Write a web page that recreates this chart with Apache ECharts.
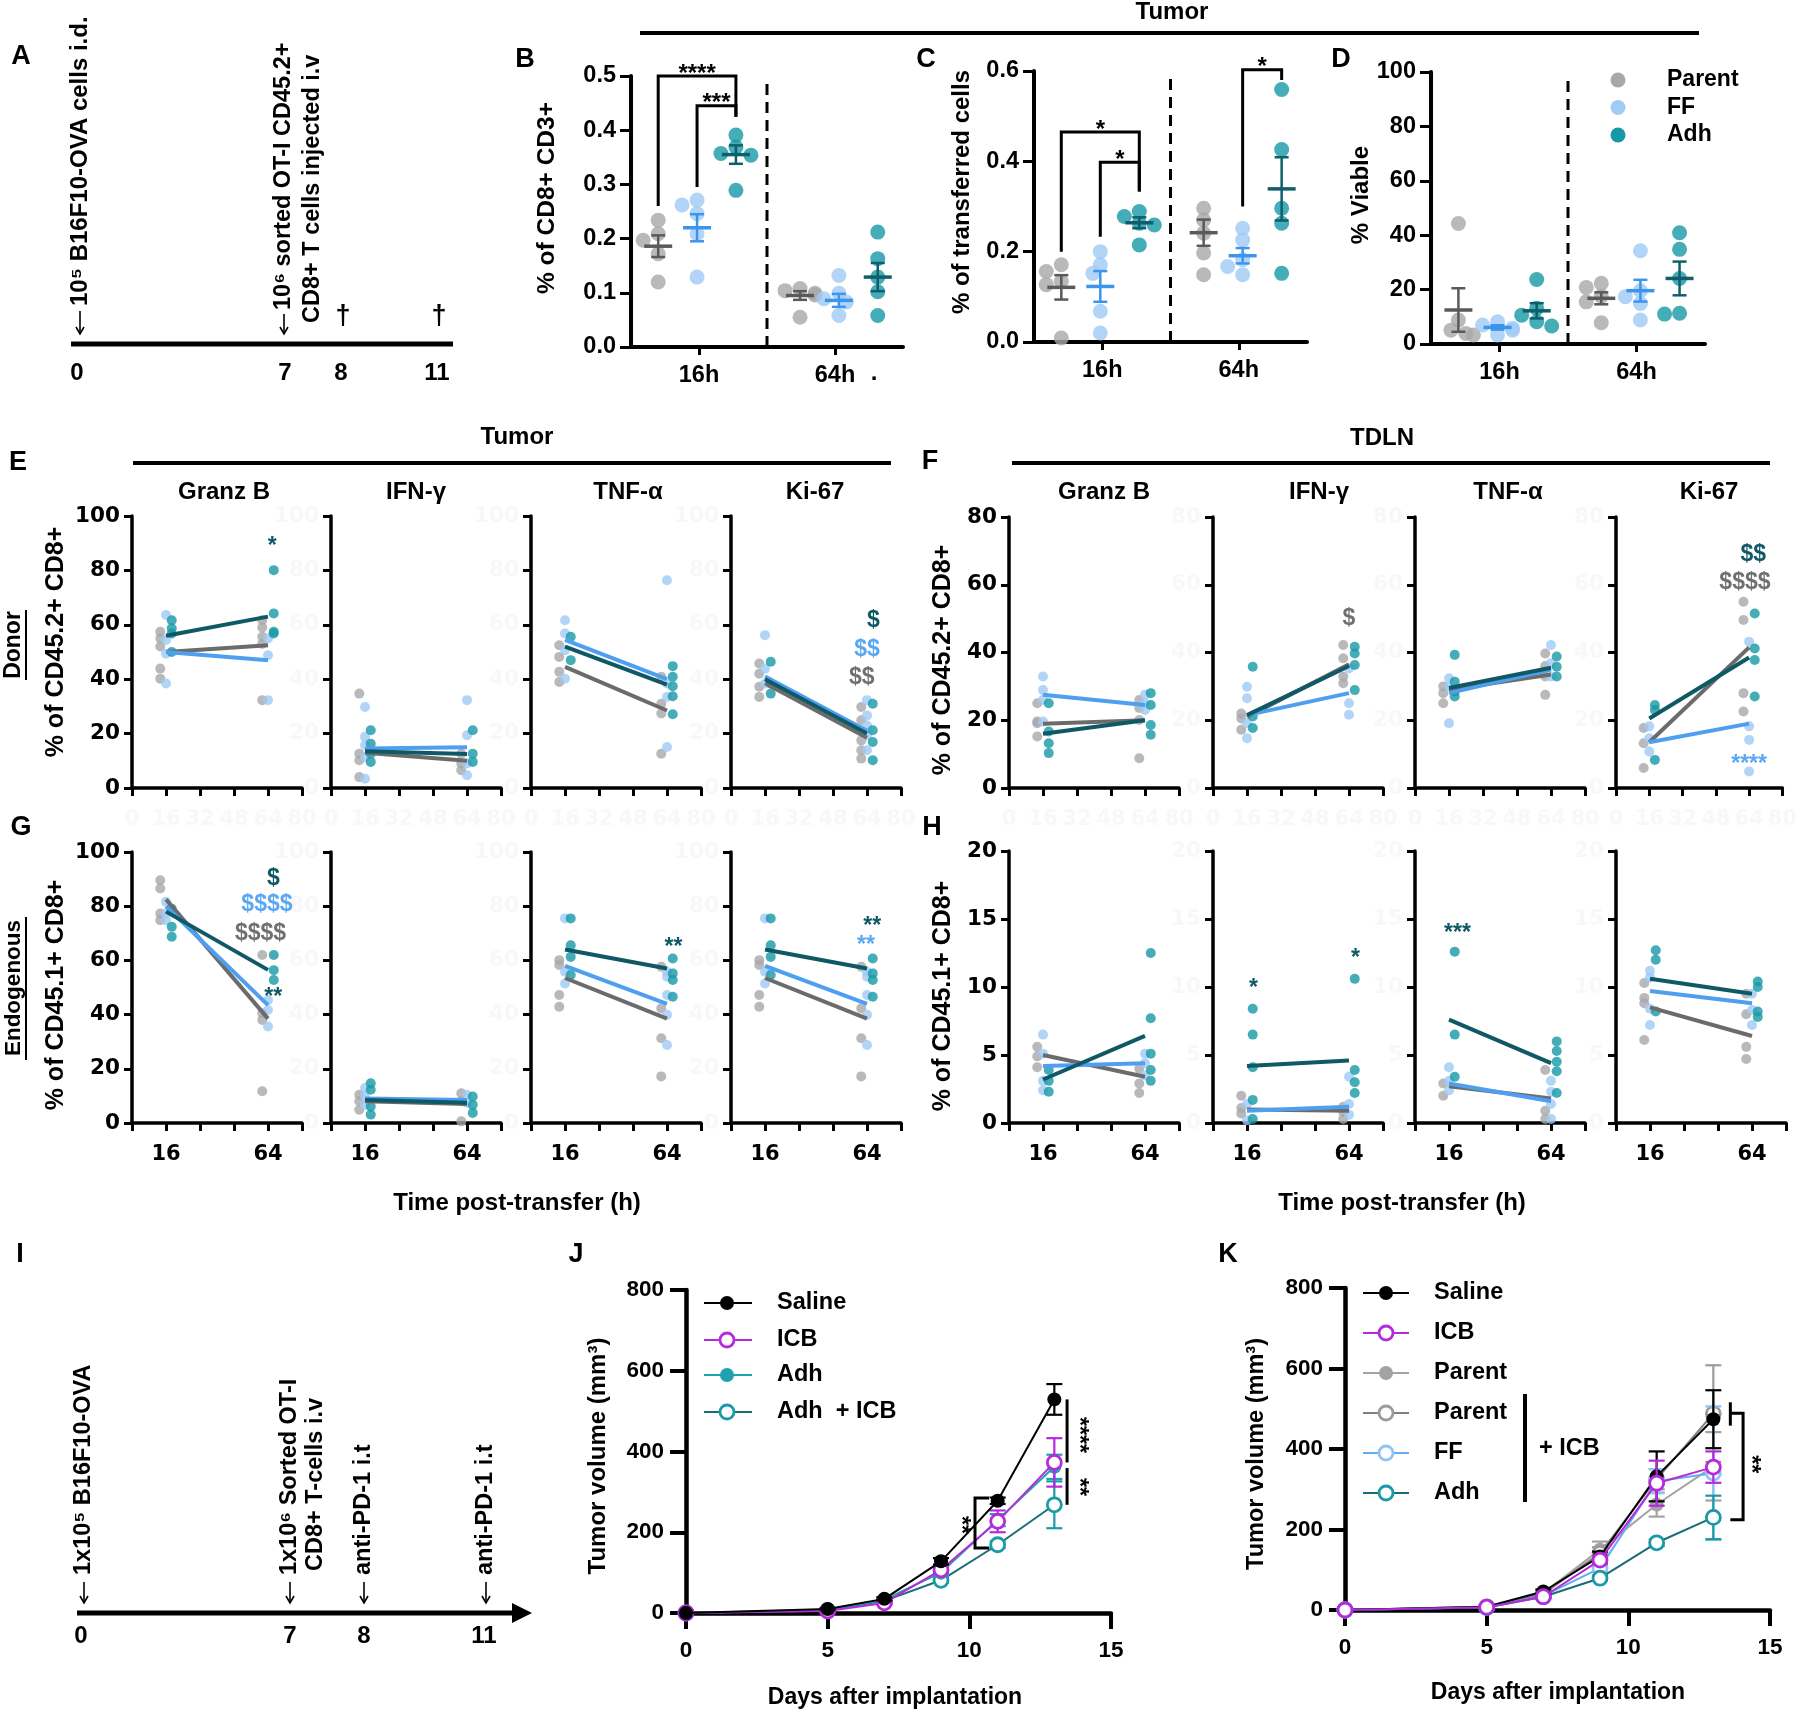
<!DOCTYPE html>
<html><head><meta charset="utf-8">
<script src="https://cdn.jsdelivr.net/npm/echarts@6/dist/echarts.min.js"></script>
<style>html,body{margin:0;padding:0;background:#fff}#c{width:1800px;height:1715px}</style>
</head><body><div id="c"></div><script>
// ================= DATA =================
const groups = ['Parent', 'FF', 'Adh'];
const timeLabels = ['16h', '64h'];
const TIMES = [16, 64];

// ---- Panel B (% of CD8+ CD3+) : [16h points, 64h points]
const B_parent = [[0.234, 0.209, 0.197, 0.172, 0.12], [0.108, 0.104, 0.099, 0.096, 0.055]];
const B_ff     = [[0.271, 0.262, 0.246, 0.209, 0.129], [0.132, 0.099, 0.089, 0.083, 0.058]];
const B_adh    = [[0.391, 0.369, 0.357, 0.354, 0.289], [0.212, 0.163, 0.129, 0.102, 0.058]];
const B_mean   = [[0.186, 0.095], [0.22, 0.086], [0.355, 0.129]];
const B_sem    = [[0.02, 0.008], [0.025, 0.012], [0.017, 0.026]];
const B_brackets = [[0, 0, 2, 0, 0.5, 0.26, 0.425, '****'], [1, 0, 2, 0, 0.445, 0.295, 0.425, '***']];

// ---- Panel C (% of transferred cells)
const C_parent = [[0.171, 0.156, 0.134, 0.127, 0.009], [0.296, 0.27, 0.241, 0.197, 0.149]];
const C_ff     = [[0.2, 0.171, 0.152, 0.068, 0.02], [0.252, 0.226, 0.182, 0.167, 0.149]];
const C_adh    = [[0.289, 0.278, 0.263, 0.259, 0.215], [0.559, 0.426, 0.296, 0.263, 0.152]];
const C_mean   = [[0.121, 0.242], [0.123, 0.191], [0.264, 0.339]];
const C_sem    = [[0.027, 0.029], [0.034, 0.017], [0.012, 0.07]];
const C_brackets = [[0, 0, 2, 0, 0.465, 0.2, 0.333, '*'], [1, 0, 2, 0, 0.398, 0.233, 0.333, '*'], [1, 1, 2, 1, 0.603, 0.3, 0.58, '*']];

// ---- Panel D (% Viable)
const D_parent = [[44.3, 8.8, 5.1, 3.9, 3.3], [22.3, 20.8, 17.6, 15.5, 7.8]];
const D_ff     = [[8.2, 7, 5.8, 5.1, 3.3], [34.3, 19.6, 17.4, 14.9, 8.8]];
const D_adh    = [[23.7, 13.1, 10.6, 8.2, 6.6], [40.9, 34.8, 24.1, 11.3, 11]];
const D_mean   = [[12.5, 16.8], [6.1, 19.6], [12.2, 24.1]];
const D_sem    = [[8, 2.2], [0.8, 4], [2.8, 6.2]];

// ---- Panels E-H: per subplot, group points [16h, 64h]; means [[P16,P64],[F16,F64],[A16,A64]]
const E_GranzB_P = [[57.4, 55, 52, 43.9, 40.2], [61.7, 59, 55.6, 53, 32.3]];
const E_GranzB_F = [[63.6, 54.4, 49.4, 38.4], [55, 48.8, 32.3]];
const E_GranzB_A = [[61.7, 58.7, 56.8, 50], [80.1, 64.2, 57.4, 56.8]];
const E_GranzB_M = [[50, 52.5], [50, 47], [56, 63]];
const E_IFN_P = [[34.7, 12.6, 10.2, 4.0], [12.6, 9, 6.5]];
const E_IFN_F = [[29.8, 18.8, 15.7, 11.4, 3.4], [32.3, 19.4, 9, 4.7]];
const E_IFN_A = [[21.2, 16.3, 12.6, 9.6], [21.2, 12.6, 9.6]];
const E_IFN_M = [[13, 10], [14.5, 15], [13.5, 12.5]];
const E_TNF_P = [[52.5, 48.2, 42.7, 39], [40.9, 31, 27.4, 12.6]];
const E_TNF_F = [[61.7, 56.8, 50.7, 40.2], [76.4, 38.4, 33.5, 15.1]];
const E_TNF_A = [[55.6, 47], [44.8, 40.9, 37.4, 33.7, 27.1]];
const E_TNF_M = [[44.5, 28.5], [54.5, 40], [52, 38]];
const E_Ki67_P = [[45.8, 42, 37.2, 33.5], [29.8, 24.9, 17.5, 13.9, 10.8]];
const E_Ki67_F = [[56.2, 43.9, 38.4], [32.3, 26.7, 23, 19.4, 13.9]];
const E_Ki67_A = [[46.4, 38.4, 34.7], [31, 21.2, 16.9, 10.2]];
const E_Ki67_M = [[38.5, 18.5], [41, 21], [40, 20]];

const F_GranzB_P = [[25, 19.6, 19.1, 15.2], [26, 23.6, 20.1, 8.8]];
const F_GranzB_F = [[32.9, 28.9, 26, 19.6], [27.5, 25, 23]];
const F_GranzB_A = [[25, 16.7, 13.2, 10.3], [28, 24.5, 18.6, 15.7]];
const F_GranzB_M = [[19, 20], [27.5, 24.5], [16, 20]];
const F_IFN_P = [[22, 20.5, 17.2], [42.2, 38.3, 32.9, 30.9]];
const F_IFN_F = [[29.9, 26.5, 19.1, 14.7], [35.3, 25, 21.6]];
const F_IFN_A = [[35.8, 21.1, 17.7], [41.7, 39.7, 36.3, 28.9]];
const F_IFN_M = [[21, 36.5], [21.5, 28], [21.5, 36]];
const F_TNF_P = [[30, 28, 25], [39.7, 36, 32.9, 27.5]];
const F_TNF_F = [[32.4, 30, 19.1], [42.2, 36.8, 32.9]];
const F_TNF_A = [[39.3, 31.4, 28.5, 27], [38.8, 35.8, 32.9]];
const F_TNF_M = [[29, 33.5], [28, 35], [29.5, 35.5]];
const F_Ki67_P = [[17.7, 13.2, 5.9], [55, 49.6, 28, 22.6]];
const F_Ki67_F = [[18.2, 14.7, 10.8], [43.2, 18.2, 14.2, 4.9]];
const F_Ki67_A = [[24.5, 23, 8.3], [51.5, 41.2, 37.8, 27]];
const F_Ki67_M = [[13.5, 41.5], [13.5, 19], [20.5, 38.5]];

const G_GranzB_P = [[89.6, 86.5, 77.3, 74.8], [62, 40.5, 38, 11.7]];
const G_GranzB_F = [[81.6, 77.3, 74.8], [45.4, 41.7, 35.6]];
const G_GranzB_A = [[79.1, 72.4, 68.7], [62, 56.4, 52.8]];
const G_GranzB_M = [[82.5, 38.5], [80, 43.5], [78, 56.5]];
const G_IFN_P = [[10.4, 8, 4.9], [11, 8, 0.6]];
const G_IFN_F = [[12.9, 9.8, 6.7], [10.4, 7.4]];
const G_IFN_A = [[14.7, 12.3, 6.1, 3.1], [9.8, 6.7, 3.7]];
const G_IFN_M = [[8, 7], [9, 8.5], [8.5, 7.5]];
const G_TNF_P = [[60.1, 58.3, 47.2, 42.9], [57.7, 42.3, 31.3, 17.2]];
const G_TNF_F = [[75.5, 55.8, 51.5], [55.8, 54, 47.2, 39.9, 28.8]];
const G_TNF_A = [[75.5, 65.6, 61.3, 54.6], [60.7, 55.2, 52.8, 46.6]];
const G_TNF_M = [[53.5, 38.5], [58, 44], [64, 57]];
const G_Ki67_P = [[60.1, 58.3, 47.2, 42.9], [57.7, 42.3, 31.3, 17.2]];
const G_Ki67_F = [[75.5, 55.8, 51.5], [55.8, 54, 47.2, 39.9, 28.8]];
const G_Ki67_A = [[75.5, 65.6, 61.3, 54.6], [60.7, 55.2, 52.8, 46.6]];
const G_Ki67_M = [[53.5, 38.5], [58, 44], [64, 57]];

const H_GranzB_P = [[5.6, 4.9, 4.1], [4, 2.9, 2.2]];
const H_GranzB_F = [[6.5, 5.1, 3.1, 2.4], [5.1, 4.4, 3.5]];
const H_GranzB_A = [[3.9, 3.1, 2.3], [12.5, 7.7, 5.1, 3.9, 3.1]];
const H_GranzB_M = [[5, 3.4], [4.2, 4.4], [3.2, 6.4]];
const H_IFN_P = [[2, 1.1, 0.7], [1.2, 0.8, 0.3]];
const H_IFN_F = [[1.4, 0.2], [3.4, 1.4, 0.6]];
const H_IFN_A = [[8.4, 6.5, 4.1, 1.7, 0.3], [10.6, 3.9, 3, 2.2]];
const H_IFN_M = [[1, 0.9], [0.9, 1.2], [4.2, 4.6]];
const H_TNF_P = [[2.9, 2], [3.9, 0.9, 0.3]];
const H_TNF_F = [[4.1, 3.1, 2.4], [3.1, 2.3, 1.4, 0.3]];
const H_TNF_A = [[12.6, 6.5, 3.4], [6, 5.3, 4.5, 3.8, 2.2]];
const H_TNF_M = [[2.7, 1.8], [2.9, 1.6], [7.6, 4.4]];
const H_Ki67_P = [[10.3, 9.2, 8.8, 6.1], [9.5, 8, 5.6, 4.7]];
const H_Ki67_F = [[11.2, 10.7, 8.4, 7.2], [9.5, 8.3, 7.2]];
const H_Ki67_A = [[12.7, 12, 8.2], [10.4, 10, 8.2, 7.8]];
const H_Ki67_M = [[8.5, 6.4], [9.7, 8.8], [10.6, 9.5]];

// significance annotations [x, y, text, colourKey]
const E_GranzB_ann = [[66, 91, '*', 'd']];
const E_Ki67_ann = [[67, 61.5, '$', 'd'], [64, 51, '$$', 'b'], [61.5, 40.5, '$$', 'g']];
const F_IFN_ann = [[64, 50, '$', 'g']];
const F_Ki67_ann = [[66, 69, '$$', 'd'], [62, 60.5, '$$$$', 'g'], [64, 8.8, '****', 'b']];
const G_GranzB_ann = [[66.5, 90, '$', 'd'], [63.5, 80.5, '$$$$', 'b'], [60.5, 70, '$$$$', 'g'], [66.5, 48.5, '**', 'd']];
const G_TNF_ann = [[67, 67, '**', 'd']];
const G_Ki67_ann = [[66.5, 74.5, '**', 'd'], [63.5, 67.5, '**', 'b']];
const H_IFN_ann = [[19, 10.3, '*', 'd'], [67, 12.5, '*', 'd']];
const H_TNF_ann = [[20, 14.4, '***', 'd']];

const markerTitles = ['Granz B', 'IFN-γ', 'TNF-α', 'Ki-67'];

// ---- Panels J / K (tumor volume)
const days = [0, 5, 7, 9, 11, 13];
const J_saline = [0, 10, 35, 128, 278, 529];   const J_salineSem = [0, 2, 4, 8, 8, 38];
const J_icb = [0, 5, 25, 107, 227, 373];       const J_icbSem = [0, 2, 3, 8, 27, 60];
const J_adh = [0, 8, 33, 100, 230, 362];       const J_adhSem = [0, 2, 4, 8, 15, 30];
const J_adhIcb = [0, 6, 30, 81, 169, 268];     const J_adhIcbSem = [0, 2, 3, 6, 8, 58];

const K_saline = [0, 8, 46, 133, 332, 474];    const K_salineSem = [0, 2, 5, 12, 62, 72];
const K_icb = [0, 7, 33, 124, 315, 355];       const K_icbSem = [0, 2, 4, 10, 56, 39];
const K_parent = [0, 8, 42, 150, 262, 357];    const K_parentSem = [0, 2, 5, 20, 30, 85];
const K_parentIcb = [0, 8, 40, 141, 325, 488]; const K_parentIcbSem = [0, 2, 4, 15, 25, 120];
const K_ffIcb = [0, 7, 35, 104, 320, 340];     const K_ffIcbSem = [0, 2, 4, 10, 30, 166];
const K_adhIcb = [0, 6, 33, 79, 167, 230];     const K_adhIcbSem = [0, 2, 3, 6, 8, 54];

const J_sigLines = [[[13.45, 529], [13.45, 373]], [[13.45, 359], [13.45, 268]], [[10.7, 285], [10.2, 285], [10.2, 161], [10.7, 161]]];
const J_sigText = [[13.85, 441, '****'], [13.85, 312, '**'], [9.7, 218, '**']];
const K_sigLines = [[[13.6, 489], [14.05, 489], [14.05, 224], [13.6, 224]], [[13.6, 458], [13.6, 516]]];
const K_sigText = [[14.32, 362, '**']];

// ================= STYLE =================
const FA = "'Liberation Sans',Arial,sans-serif";
const FW = "'DejaVu Sans','Liberation Sans',sans-serif";
const PT = ['#a8a8aa', '#9fcbf5', '#1698a6'];
const LN = ['#6b6b6b', '#4f9ff0', '#0f5966'];
const MN = ['#5a5a5a', '#3b95ec', '#0f5f6b'];
const ANN = { d: '#0f5966', b: '#5aa7f3', g: '#707070' };
const P_OFF = [-2.7, 0, 2.7];
const FAINT = '#f8f8f8';

const grids = [], xAxes = [], yAxes = [], series = [], graphics = [];
function addGrid(left, top, width, height) { grids.push({ left, top, width, height }); return grids.length - 1; }
function axLine(w) { return { show: true, onZero: false, lineStyle: { color: '#000', width: w } }; }
function axTick(len, w) { return { show: true, length: len, lineStyle: { color: '#000', width: w } }; }
function txt(x, y, text, font, opt) {
  opt = opt || {};
  graphics.push({ type: 'text', x, y, rotation: opt.rot || 0, z: 100,
    style: { text, font, fill: opt.color || '#000', align: opt.align || 'center', verticalAlign: opt.va || 'middle' } });
}
function hline(x1, y1, x2, y2, w, color) {
  graphics.push({ type: 'line', z: 100, shape: { x1, y1, x2, y2 }, style: { stroke: color || '#000', lineWidth: w } });
}
function downArrow(x, y1, y2) {
  hline(x, y1, x, y2, 1.6);
  graphics.push({ type: 'polyline', z: 100, shape: { points: [[x - 4, y2 - 7], [x, y2], [x + 4, y2 - 7]] }, style: { stroke: '#000', lineWidth: 1.6, fill: null } });
}

// ---------- dot panels (B, C, D) ----------
function pos(g, t) { return 0.7 + g + t * 3.65; }
function swarm(vals, g, t, pxX, pxY, d) {
  const placed = [];
  const xc = pos(g, t);
  vals.slice().sort((a, b) => b - a).forEach(v => {
    const cand = [0, -0.5, 0.5, -1, 1];
    for (let i = 0; i < cand.length; i++) {
      const xo = cand[i] * d / pxX;
      const ok = placed.every(p => Math.hypot((p[0] - (xc + xo)) * pxX, (p[1] - v) * pxY) >= d * 0.75);
      if (ok || i === cand.length - 1) { placed.push([xc + xo, v]); break; }
    }
  });
  return placed;
}
function addDotPanel(left, top, width, height, ymax, yint, dec, ptsArr, means, sems, brackets) {
  const gi = addGrid(left, top, width, height);
  const xv = xAxes.length;
  xAxes.push({ type: 'value', gridIndex: gi, min: 0, max: 7, show: false, position: 'bottom' });
  xAxes.push({ type: 'category', gridIndex: gi, position: 'bottom', data: timeLabels, boundaryGap: true,
    axisLine: axLine(4), axisTick: { show: true, alignWithLabel: true, length: 8, lineStyle: { color: '#000', width: 3 } },
    axisLabel: { margin: 17, fontFamily: FA, fontWeight: 'bold', fontSize: 23.5, color: '#000' } });
  const yi = yAxes.length;
  yAxes.push({ type: 'value', gridIndex: gi, min: 0, max: ymax, interval: yint,
    axisLine: axLine(4), axisTick: axTick(11, 3), splitLine: { show: false },
    axisLabel: { margin: 15, fontFamily: FA, fontWeight: 'bold', fontSize: 23.5, color: '#000', formatter: v => v.toFixed(dec) } });
  const pxX = width / 7, pxY = height / ymax;
  ptsArr.forEach((grp, g) => {
    const data = [];
    grp.forEach((vals, t) => swarm(vals, g, t, pxX, pxY, 15).forEach(p => data.push(p)));
    series.push({ type: 'scatter', xAxisIndex: xv, yAxisIndex: yi, symbolSize: 15, itemStyle: { color: PT[g] }, data, z: 2 });
  });
  series.push({ type: 'line', xAxisIndex: xv, yAxisIndex: yi, data: [[3.5, 0], [3.5, ymax * 0.975]], symbol: 'none',
    lineStyle: { type: [11, 7], width: 3, color: '#000' }, z: 1, silent: true });
  const md = [];
  means.forEach((mm, g) => mm.forEach((m, t) => md.push([pos(g, t), m, sems[g][t], g])));
  series.push({ type: 'custom', xAxisIndex: xv, yAxisIndex: yi, z: 4, data: md,
    renderItem: (p, api) => {
      const x = api.value(0), m = api.value(1), s = api.value(2), g = api.value(3);
      const c = api.coord([x, m]), hi = api.coord([x, m + s]), lo = api.coord([x, m - s]);
      const col = MN[g];
      return { type: 'group', children: [
        { type: 'line', shape: { x1: c[0] - 14, y1: c[1], x2: c[0] + 14, y2: c[1] }, style: { stroke: col, lineWidth: 3.5 } },
        { type: 'line', shape: { x1: c[0], y1: hi[1], x2: c[0], y2: lo[1] }, style: { stroke: col, lineWidth: 2.5 } },
        { type: 'line', shape: { x1: c[0] - 7, y1: hi[1], x2: c[0] + 7, y2: hi[1] }, style: { stroke: col, lineWidth: 2.5 } },
        { type: 'line', shape: { x1: c[0] - 7, y1: lo[1], x2: c[0] + 7, y2: lo[1] }, style: { stroke: col, lineWidth: 2.5 } }] };
    } });
  if (brackets && brackets.length) {
    series.push({ type: 'custom', xAxisIndex: xv, yAxisIndex: yi, z: 5, clip: false,
      data: brackets.map((b, i) => [pos(b[0], b[1]), pos(b[2], b[3]), b[4], b[5], b[6], i]),
      renderItem: (p, api) => {
        const x1 = api.value(0), x2 = api.value(1), yt = api.value(2), l1 = api.value(3), l2 = api.value(4);
        const a = api.coord([x1, l1]), b = api.coord([x1, yt]), c = api.coord([x2, yt]), d = api.coord([x2, l2]);
        const t = brackets[api.value(5)][7];
        return { type: 'group', children: [
          { type: 'polyline', shape: { points: [a, b, c, d] }, style: { stroke: '#000', lineWidth: 3, fill: null } },
          { type: 'text', x: (b[0] + c[0]) / 2, y: b[1] + 10, style: { text: t, font: 'bold 24px ' + FA, fill: '#000', align: 'center', verticalAlign: 'bottom' } }] };
      } });
  }
  return gi;
}

// ---------- time course panels (E-H) ----------
function annSeries(xi, yi, anns) {
  return { type: 'custom', xAxisIndex: xi, yAxisIndex: yi, clip: false, z: 6,
    data: anns.map((a, i) => [a[0], a[1], i]),
    renderItem: (p, api) => {
      const a = anns[api.value(2)];
      const c = api.coord([a[0], a[1]]);
      const star = a[2].indexOf('*') >= 0;
      return { type: 'text', x: c[0], y: c[1] + (star ? 6 : 0),
        style: { text: a[2], fill: ANN[a[3]], font: 'bold 23px ' + FA, align: 'center', verticalAlign: 'middle' } };
    } };
}
function addTimePanel(left, top, height, ymax, yint, P, F, A, M, anns, yLabBlack, xMode) {
  const gi = addGrid(left, top, 170, height);
  const xi = xAxes.length;
  xAxes.push({ type: 'value', gridIndex: gi, min: 0, max: 80, interval: 16,
    axisLine: axLine(3.5), axisTick: axTick(8, 3), splitLine: { show: false },
    axisLabel: { margin: 21, fontFamily: FW, fontWeight: 'bold', fontSize: 21, 
      color: xMode === 'time' ? '#000' : FAINT,
      formatter: v => xMode === 'time' ? ((v === 16 || v === 64) ? String(v) : '') : String(v) } });
  const yi = yAxes.length;
  yAxes.push({ type: 'value', gridIndex: gi, min: 0, max: ymax, interval: yint,
    axisLine: axLine(3.5), axisTick: axTick(8, 3), splitLine: { show: false },
    axisLabel: { margin: 12, fontFamily: FW, fontWeight: 'bold', fontSize: 21.5, color: yLabBlack ? '#000' : FAINT } });
  [P, F, A].forEach((grp, g) => {
    const data = [];
    grp.forEach((vals, t) => vals.forEach(v => data.push([TIMES[t] + P_OFF[g], v])));
    series.push({ type: 'scatter', xAxisIndex: xi, yAxisIndex: yi, symbolSize: 10, itemStyle: { color: PT[g] }, data, z: 2 });
  });
  M.forEach((mm, g) => series.push({ type: 'line', xAxisIndex: xi, yAxisIndex: yi,
    data: [[TIMES[0], mm[0]], [TIMES[1], mm[1]]], symbol: 'none', lineStyle: { color: LN[g], width: 4 }, z: 3, silent: true }));
  if (anns && anns.length) series.push(annSeries(xi, yi, anns));
}

// ---------- growth panels (J, K) ----------
function addGrowth(left, top, width, height, list, sigLines, sigText) {
  const gi = addGrid(left, top, width, height);
  const xi = xAxes.length;
  xAxes.push({ type: 'value', gridIndex: gi, min: 0, max: 15, interval: 5,
    axisLine: axLine(4.5), axisTick: axTick(16, 4), splitLine: { show: false },
    axisLabel: { margin: 26, fontFamily: FA, fontWeight: 'bold', fontSize: 22.5, color: '#000' } });
  const yi = yAxes.length;
  yAxes.push({ type: 'value', gridIndex: gi, min: 0, max: 800, interval: 200,
    axisLine: axLine(4.5), axisTick: axTick(16, 4), splitLine: { show: false },
    axisLabel: { margin: 22, fontFamily: FA, fontWeight: 'bold', fontSize: 22.5, color: '#000' } });
  list.forEach((s, k) => {
    series.push({ type: 'custom', xAxisIndex: xi, yAxisIndex: yi, z: 3 + k * 2, clip: false,
      data: days.map((d, i) => [d, s.v[i], s.e[i]]),
      renderItem: (p, api) => {
        const x = api.value(0), m = api.value(1), e = api.value(2);
        if (!e) return;
        const hi = api.coord([x, m + e]), lo = api.coord([x, m - e]);
        return { type: 'group', children: [
          { type: 'line', shape: { x1: hi[0], y1: hi[1], x2: lo[0], y2: lo[1] }, style: { stroke: s.ec, lineWidth: 2.2 } },
          { type: 'line', shape: { x1: hi[0] - 8, y1: hi[1], x2: hi[0] + 8, y2: hi[1] }, style: { stroke: s.ec, lineWidth: 2.2 } },
          { type: 'line', shape: { x1: lo[0] - 8, y1: lo[1], x2: lo[0] + 8, y2: lo[1] }, style: { stroke: s.ec, lineWidth: 2.2 } }] };
      } });
    series.push({ type: 'line', xAxisIndex: xi, yAxisIndex: yi, z: 4 + k * 2, data: days.map((d, i) => [d, s.v[i]]),
      symbol: 'circle', symbolSize: 14, lineStyle: { color: s.lc, width: 2 },
      itemStyle: { color: s.open ? '#fff' : s.mc, borderColor: s.mc, borderWidth: s.open ? 2.8 : 0 } });
  });
  series.push({ type: 'custom', xAxisIndex: xi, yAxisIndex: yi, z: 30, clip: false,
    data: sigLines.map((l, i) => [i]),
    renderItem: (p, api) => {
      const l = sigLines[api.value(0)];
      return { type: 'polyline', shape: { points: l.map(q => api.coord(q)) }, style: { stroke: '#000', lineWidth: 3, fill: null } };
    } });
  series.push({ type: 'custom', xAxisIndex: xi, yAxisIndex: yi, z: 30, clip: false,
    data: sigText.map((t, i) => [t[0], t[1], i]),
    renderItem: (p, api) => {
      const t = sigText[api.value(2)];
      const c = api.coord([t[0], t[1]]);
      return { type: 'text', x: c[0], y: c[1], rotation: -Math.PI / 2,
        style: { text: t[2], font: 'bold 23px ' + FA, fill: '#000', align: 'center', verticalAlign: 'middle' } };
    } });
}

// ================= BUILD =================
addDotPanel(631, 76, 272, 271, 0.5, 0.1, 1, [B_parent, B_ff, B_adh], B_mean, B_sem, B_brackets);
addDotPanel(1034, 71, 273, 271, 0.6, 0.2, 1, [C_parent, C_ff, C_adh], C_mean, C_sem, C_brackets);
addDotPanel(1431, 72, 274, 272, 100, 20, 0, [D_parent, D_ff, D_adh], D_mean, D_sem, []);

const rowE = [[E_GranzB_P, E_GranzB_F, E_GranzB_A, E_GranzB_M, E_GranzB_ann], [E_IFN_P, E_IFN_F, E_IFN_A, E_IFN_M, []], [E_TNF_P, E_TNF_F, E_TNF_A, E_TNF_M, []], [E_Ki67_P, E_Ki67_F, E_Ki67_A, E_Ki67_M, E_Ki67_ann]];
const rowF = [[F_GranzB_P, F_GranzB_F, F_GranzB_A, F_GranzB_M, []], [F_IFN_P, F_IFN_F, F_IFN_A, F_IFN_M, F_IFN_ann], [F_TNF_P, F_TNF_F, F_TNF_A, F_TNF_M, []], [F_Ki67_P, F_Ki67_F, F_Ki67_A, F_Ki67_M, F_Ki67_ann]];
const rowG = [[G_GranzB_P, G_GranzB_F, G_GranzB_A, G_GranzB_M, G_GranzB_ann], [G_IFN_P, G_IFN_F, G_IFN_A, G_IFN_M, []], [G_TNF_P, G_TNF_F, G_TNF_A, G_TNF_M, G_TNF_ann], [G_Ki67_P, G_Ki67_F, G_Ki67_A, G_Ki67_M, G_Ki67_ann]];
const rowH = [[H_GranzB_P, H_GranzB_F, H_GranzB_A, H_GranzB_M, []], [H_IFN_P, H_IFN_F, H_IFN_A, H_IFN_M, H_IFN_ann], [H_TNF_P, H_TNF_F, H_TNF_A, H_TNF_M, H_TNF_ann], [H_Ki67_P, H_Ki67_F, H_Ki67_A, H_Ki67_M, []]];
const leftsL = [132, 331, 531, 731], leftsR = [1009, 1213, 1415, 1616];
rowE.forEach((r, i) => addTimePanel(leftsL[i], 516, 272, 100, 20, r[0], r[1], r[2], r[3], r[4], i === 0, 'faint'));
rowF.forEach((r, i) => addTimePanel(leftsR[i], 517, 271, 80, 20, r[0], r[1], r[2], r[3], r[4], i === 0, 'faint'));
rowG.forEach((r, i) => addTimePanel(leftsL[i], 852, 271, 100, 20, r[0], r[1], r[2], r[3], r[4], i === 0, 'time'));
rowH.forEach((r, i) => addTimePanel(leftsR[i], 851, 272, 20, 5, r[0], r[1], r[2], r[3], r[4], i === 0, 'time'));

addGrowth(686, 1290, 425, 323, [
  { v: J_adhIcb, e: J_adhIcbSem, mc: '#1d9aa7', lc: '#1a6e78', ec: '#1d9aa7', open: true },
  { v: J_adh, e: J_adhSem, mc: '#1fa2b0', lc: '#1fa2b0', ec: '#1fa2b0', open: false },
  { v: J_icb, e: J_icbSem, mc: '#b62ade', lc: '#b62ade', ec: '#b62ade', open: true },
  { v: J_saline, e: J_salineSem, mc: '#000', lc: '#000', ec: '#000', open: false }
], J_sigLines, J_sigText);
addGrowth(1345, 1288, 425, 322, [
  { v: K_parent, e: K_parentSem, mc: '#a3a3a3', lc: '#a3a3a3', ec: '#a3a3a3', open: false },
  { v: K_parentIcb, e: K_parentIcbSem, mc: '#9b9b9b', lc: '#808080', ec: '#9b9b9b', open: true },
  { v: K_ffIcb, e: K_ffIcbSem, mc: '#8ec5f6', lc: '#64acf2', ec: '#8ec5f6', open: true },
  { v: K_adhIcb, e: K_adhIcbSem, mc: '#1c98a6', lc: '#1b6c76', ec: '#1c98a6', open: true },
  { v: K_saline, e: K_salineSem, mc: '#000', lc: '#000', ec: '#000', open: false },
  { v: K_icb, e: K_icbSem, mc: '#b62ade', lc: '#b62ade', ec: '#b62ade', open: true }
], K_sigLines, K_sigText);

// ================= TEXT / GRAPHICS =================
const LETTER = 'bold 27px ' + FA;
[['A', 21, 57], ['B', 525, 60], ['C', 926, 60], ['D', 1341, 60], ['E', 18, 463], ['F', 930, 462],
 ['G', 21, 828], ['H', 932, 828], ['I', 20, 1255], ['J', 576, 1255], ['K', 1228, 1255]].forEach(l => txt(l[1], l[2], l[0], LETTER));

const ROT = Math.PI / 2;
// Panel A timeline
hline(71, 344, 453, 344, 5);
[['0', 77], ['7', 285], ['8', 341], ['11', 437]].forEach(t => txt(t[1], 373, t[0], 'bold 24px ' + FA));
downArrow(80, 311, 334);
downArrow(284, 314, 334);
txt(80, 306, '10⁵ B16F10-OVA cells i.d.', 'bold 24px ' + FA, { rot: ROT, align: 'left' });
txt(284, 310, '10⁶ sorted OT-I CD45.2+', 'bold 23.5px ' + FA, { rot: ROT, align: 'left' });
txt(313, 323, 'CD8+ T cells injected i.v', 'bold 23.5px ' + FA, { rot: ROT, align: 'left' });
txt(343, 317, '†', 'bold 27px ' + FA);
txt(439, 317, '†', 'bold 27px ' + FA);

// Top header
txt(1172, 12, 'Tumor', 'bold 24px ' + FA);
hline(640, 33, 1699, 33, 4);
txt(874, 373, '.', 'bold 24px ' + FA);

// y-axis names top row
txt(547, 198, '% of CD8+ CD3+', 'bold 24.5px ' + FA, { rot: ROT });
txt(962, 192, '% of transferred cells', 'bold 24px ' + FA, { rot: ROT });
txt(1361, 195, '% Viable', 'bold 24px ' + FA, { rot: ROT });

// D legend
groups.forEach((g, i) => {
  graphics.push({ type: 'circle', z: 100, shape: { cx: 1618, cy: 80 + i * 27.5, r: 7.5 }, style: { fill: PT[i] } });
  txt(1667, 80 + i * 27.5, g, 'bold 23px ' + FA, { align: 'left' });
});

// E/F headers
txt(517, 437, 'Tumor', 'bold 24px ' + FA);
hline(133, 463, 891, 463, 4);
txt(1382, 438, 'TDLN', 'bold 24px ' + FA);
hline(1012, 463, 1770, 463, 4);
const titleXL = [224, 416, 628, 815], titleXR = [1104, 1319, 1508, 1709];
markerTitles.forEach((m, i) => { txt(titleXL[i], 492, m, 'bold 24px ' + FA); txt(titleXR[i], 492, m, 'bold 24px ' + FA); });

// E-H y names
txt(56, 642, '% of CD45.2+ CD8+', 'bold 25px ' + FA, { rot: ROT });
txt(14, 645, 'Donor', 'bold 23px ' + FA, { rot: ROT });
hline(26, 610, 26, 680, 2);
txt(943, 660, '% of CD45.2+ CD8+', 'bold 25px ' + FA, { rot: ROT });
txt(56, 995, '% of CD45.1+ CD8+', 'bold 25px ' + FA, { rot: ROT });
txt(14, 988, 'Endogenous', 'bold 22.5px ' + FA, { rot: ROT });
hline(26, 917, 26, 1060, 2);
txt(943, 996, '% of CD45.1+ CD8+', 'bold 25px ' + FA, { rot: ROT });
txt(517, 1203, 'Time post-transfer (h)', 'bold 24px ' + FA);
txt(1402, 1203, 'Time post-transfer (h)', 'bold 24px ' + FA);

// Panel I timeline
hline(77, 1613, 516, 1613, 5);
graphics.push({ type: 'polygon', z: 100, shape: { points: [[512, 1603], [532, 1613], [512, 1623]] }, style: { fill: '#000' } });
[['0', 81], ['7', 290], ['8', 364], ['11', 484]].forEach(t => txt(t[1], 1636, t[0], 'bold 24px ' + FA));
[84, 290, 364, 486].forEach(x => downArrow(x, 1582, 1603));
txt(84, 1575, '1x10⁵ B16F10-OVA', 'bold 23.5px ' + FA, { rot: ROT, align: 'left' });
txt(290, 1575, '1x10⁶ Sorted OT-I', 'bold 23.5px ' + FA, { rot: ROT, align: 'left' });
txt(316, 1571, 'CD8+ T-cells i.v', 'bold 23.5px ' + FA, { rot: ROT, align: 'left' });
txt(364, 1575, 'anti-PD-1 i.t', 'bold 23.5px ' + FA, { rot: ROT, align: 'left' });
txt(486, 1575, 'anti-PD-1 i.t', 'bold 23.5px ' + FA, { rot: ROT, align: 'left' });

// J/K axis names
txt(598, 1456, 'Tumor volume (mm³)', 'bold 24px ' + FA, { rot: ROT });
txt(895, 1698, 'Days after implantation', 'bold 23px ' + FA);
txt(1257, 1454, 'Tumor volume (mm³)', 'bold 23.5px ' + FA, { rot: ROT });
txt(1558, 1693, 'Days after implantation', 'bold 23px ' + FA);

// legends J/K
function legendItem(x1, x2, xm, xt, y, lc, mc, open, label, font) {
  hline(x1, y, x2, y, 2, lc);
  graphics.push({ type: 'circle', z: 101, shape: { cx: xm, cy: y, r: 7 }, style: { fill: open ? '#fff' : mc, stroke: mc, lineWidth: open ? 2.8 : 0 } });
  txt(xt, y, label, font, { align: 'left' });
}
const J_leg = [['Saline', '#000', '#000', false], ['ICB', '#b62ade', '#b62ade', true], ['Adh', '#1fa2b0', '#1fa2b0', false], ['Adh  + ICB', '#1a6e78', '#1d9aa7', true]];
J_leg.forEach((l, i) => legendItem(704, 752, 727, 777, [1303, 1340, 1375, 1412][i], l[1], l[2], l[3], l[0], 'bold 23.5px ' + FA));
const K_leg = [['Saline', '#000', '#000', false], ['ICB', '#b62ade', '#b62ade', true], ['Parent', '#a3a3a3', '#a3a3a3', false], ['Parent', '#808080', '#9b9b9b', true], ['FF', '#64acf2', '#8ec5f6', true], ['Adh', '#1b6c76', '#1c98a6', true]];
K_leg.forEach((l, i) => legendItem(1363, 1409, 1386, 1434, 1293 + i * 40, l[1], l[2], l[3], l[0], 'bold 23.5px ' + FA));
hline(1525, 1394, 1525, 1502, 4);
txt(1539, 1449, '+ ICB', 'bold 23.5px ' + FA, { align: 'left' });

const chart = echarts.init(document.getElementById('c'), null, { renderer: 'canvas' });
chart.setOption({
  animation: false,
  backgroundColor: '#fff',
  grid: grids, xAxis: xAxes, yAxis: yAxes, series: series, graphic: graphics
});
</script></body></html>
